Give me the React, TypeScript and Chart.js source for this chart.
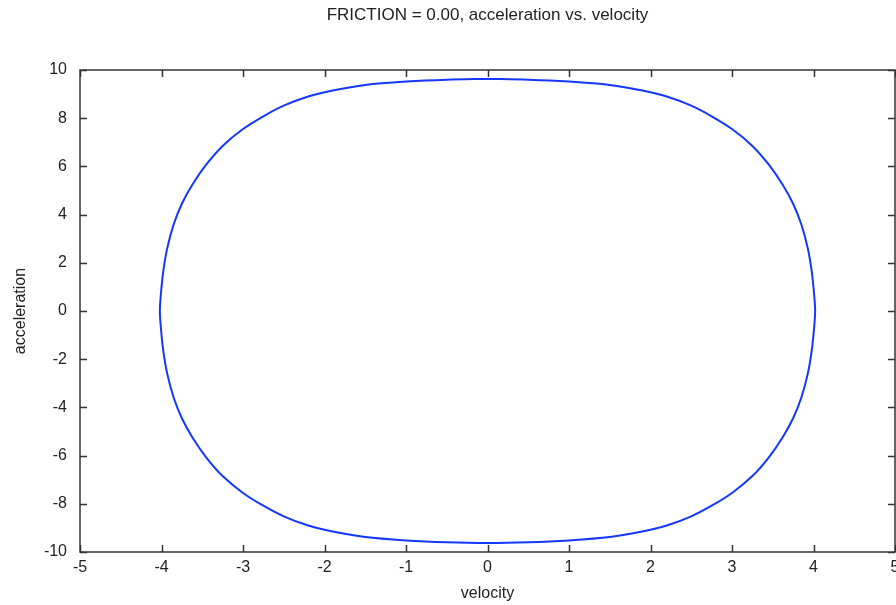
import { useEffect, useRef } from "react";
import { Chart, registerables } from "chart.js";

Chart.register(...registerables);

const chartTitle = "FRICTION = 0.00, acceleration vs. velocity";
const xAxisTitle = "velocity";
const yAxisTitle = "acceleration";

// phase curve (clockwise, starting at the top)
const velocity = [
  0, 0.5, 1.0, 1.5, 1.9, 2.2, 2.5, 2.75, 3.0, 3.25, 3.45, 3.62, 3.75, 3.85, 3.93, 3.98, 4.01, 4.02,
  4.01, 3.98, 3.93, 3.85, 3.75, 3.62, 3.45, 3.25, 3.0, 2.75, 2.5, 2.2, 1.9, 1.5, 1.0, 0.5, 0,
  -0.5, -1.0, -1.5, -1.9, -2.2, -2.5, -2.75, -3.0, -3.25, -3.45, -3.62, -3.75, -3.85, -3.93, -3.98, -4.01, -4.02,
  -4.01, -3.98, -3.93, -3.85, -3.75, -3.62, -3.45, -3.25, -3.0, -2.75, -2.5, -2.2, -1.9, -1.5, -1.0, -0.5, 0,
];
const acceleration = [
  9.63, 9.6, 9.52, 9.38, 9.15, 8.9, 8.52, 8.08, 7.55, 6.85, 6.08, 5.25, 4.45, 3.6, 2.6, 1.6, 0.6, 0,
  -0.6, -1.6, -2.6, -3.6, -4.45, -5.25, -6.08, -6.85, -7.55, -8.08, -8.52, -8.9, -9.15, -9.38, -9.52, -9.6, -9.63,
  -9.6, -9.52, -9.38, -9.15, -8.9, -8.52, -8.08, -7.55, -6.85, -6.08, -5.25, -4.45, -3.6, -2.6, -1.6, -0.6, 0,
  0.6, 1.6, 2.6, 3.6, 4.45, 5.25, 6.08, 6.85, 7.55, 8.08, 8.52, 8.9, 9.15, 9.38, 9.52, 9.6, 9.63,
];

const xMin = -5;
const xMax = 5;
const xStep = 1;
const yMin = -10;
const yMax = 10;
const yStep = 2;

const FONT = "'Liberation Sans', Arial, Helvetica, sans-serif";
const TEXT = "#222";
const AXIS = "#333";

const framePlugin = {
  id: "gnuFrame",
  afterDatasetsDraw(chart: any) {
    const { ctx, chartArea } = chart;
    const { left, right, top, bottom } = chartArea;
    const xs = chart.scales.x;
    const ys = chart.scales.y;
    const len = 7;
    ctx.save();
    ctx.strokeStyle = AXIS;
    ctx.lineWidth = 1.5;
    ctx.beginPath();
    ctx.rect(left, top, right - left, bottom - top);
    xs.ticks.forEach((t: any) => {
      const px = Math.round(xs.getPixelForValue(t.value)) + 0.5;
      ctx.moveTo(px, bottom);
      ctx.lineTo(px, bottom - len);
      ctx.moveTo(px, top);
      ctx.lineTo(px, top + len);
    });
    ys.ticks.forEach((t: any) => {
      const py = Math.round(ys.getPixelForValue(t.value)) + 0.5;
      ctx.moveTo(left, py);
      ctx.lineTo(left + len, py);
      ctx.moveTo(right, py);
      ctx.lineTo(right - len, py);
    });
    ctx.stroke();
    ctx.restore();
  },
};

export default function App() {
  const ref = useRef<HTMLCanvasElement | null>(null);

  useEffect(() => {
    document.body.style.margin = "0";
    const canvas = ref.current;
    if (!canvas) return;
    const points = velocity.map((v, i) => ({ x: v, y: acceleration[i] }));
    const chart = new Chart(canvas, {
      type: "scatter",
      data: {
        datasets: [
          {
            data: points,
            showLine: true,
            borderColor: "rgb(20, 55, 255)",
            backgroundColor: "rgb(20, 55, 255)",
            borderWidth: 2,
            pointRadius: 0,
            tension: 0.3,
          },
        ],
      },
      options: {
        responsive: false,
        animation: false,
        devicePixelRatio: 1,
        layout: { autoPadding: false, padding: { left: 0, right: 1, top: 0, bottom: 0 } },
        plugins: {
          legend: { display: false },
          tooltip: { enabled: false },
          title: {
            display: true,
            fullSize: false,
            text: chartTitle,
            color: TEXT,
            font: { family: FONT, size: 17, weight: "normal" },
            padding: { top: 5.5, bottom: 44.1 },
          },
        },
        scales: {
          x: {
            type: "linear",
            min: xMin,
            max: xMax,
            ticks: {
              stepSize: xStep,
              color: TEXT,
              font: { family: FONT, size: 16 },
              padding: 6,
              maxRotation: 0,
            },
            grid: { display: false, drawTicks: false },
            border: { display: false },
            title: {
              display: true,
              text: xAxisTitle,
              color: TEXT,
              font: { family: FONT, size: 16 },
              padding: { top: 0, bottom: 2 },
            },
            afterFit(scale: any) {
              scale.height = 53;
              scale.paddingLeft = 0;
              scale.paddingRight = 0;
            },
          },
          y: {
            type: "linear",
            min: yMin,
            max: yMax,
            ticks: {
              stepSize: yStep,
              color: TEXT,
              font: { family: FONT, size: 16 },
              padding: 13,
            },
            grid: { display: false, drawTicks: false },
            border: { display: false },
            title: {
              display: true,
              text: yAxisTitle,
              color: TEXT,
              font: { family: FONT, size: 16 },
              padding: { top: 10.5, bottom: 0 },
            },
            afterFit(scale: any) {
              scale.width = 80;
              scale.paddingTop = 0;
              scale.paddingBottom = 0;
            },
          },
        },
      },
      plugins: [framePlugin],
    });
    return () => chart.destroy();
  }, []);

  return (
    <div style={{ position: "absolute", left: 0, top: 0, width: 896, height: 605, background: "#fff" }}>
      <canvas ref={ref} width={896} height={605} />
    </div>
  );
}
